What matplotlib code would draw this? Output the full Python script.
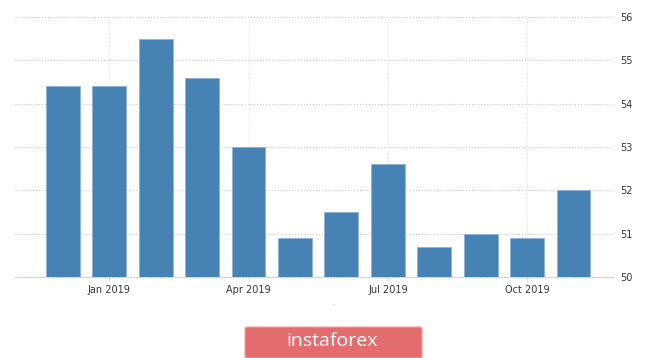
import matplotlib.pyplot as plt
from matplotlib.patches import FancyBboxPatch

months = ['Dec 2018', 'Jan 2019', 'Feb 2019', 'Mar 2019', 'Apr 2019', 'May 2019',
          'Jun 2019', 'Jul 2019', 'Aug 2019', 'Sep 2019', 'Oct 2019', 'Nov 2019']
values = [54.4, 54.4, 55.5, 54.6, 53.0, 50.9, 51.5, 52.6, 50.7, 51.0, 50.9, 52.0]
tick_idx = [1, 4, 7, 10]
y_ticks = [50, 51, 52, 53, 54, 55, 56]

fig = plt.figure(figsize=(6.65, 3.58), dpi=100)
ax = fig.add_axes([15 / 665, 1 - 277 / 358, (613 - 15) / 665, 260 / 358])

x = list(range(len(values)))
ax.bar(x, [v - 50 for v in values], bottom=50, width=0.73,
       color='#4682b4', edgecolor='#8fb3d6', linewidth=0.6, zorder=3)

ax.set_xlim(-1.03, 11.85)
ax.set_ylim(50, 56)
ax.set_xticks(tick_idx)
ax.set_xticklabels([months[i] for i in tick_idx])
ax.set_yticks(y_ticks)
ax.yaxis.tick_right()
ax.tick_params(axis='y', length=0, pad=5, labelsize=7, labelcolor='#333333')
ax.tick_params(axis='x', length=3, color='#d8d8d8', pad=3, labelsize=7, labelcolor='#333333')

ax.yaxis.grid(True, linestyle=':', color='#c8c8c8', linewidth=0.8, zorder=0)
ax.xaxis.grid(True, linestyle=':', color='#dddddd', linewidth=0.7, zorder=0)
for s in ['top', 'left', 'right']:
    ax.spines[s].set_visible(False)
ax.spines['bottom'].set_linestyle(':')
ax.spines['bottom'].set_color('#c8c8c8')
for gl in ax.get_ygridlines():
    gl.set_clip_on(False)

# small dot under the axis
fig.text(333 / 665, 1 - 305 / 358, '.', color='#999999', fontsize=5, ha='center')

# watermark
box = FancyBboxPatch((245 / 665, 1 - 358 / 358), 177 / 665, 31 / 358,
                     boxstyle='round,pad=0,rounding_size=0.004',
                     transform=fig.transFigure, facecolor='#e46c6e',
                     edgecolor='#f0a0a0', linewidth=0.8)
fig.patches.append(box)
fig.text(332 / 665, 1 - 341 / 358, 'instaforex', color='white', fontsize=14,
         ha='center', va='center', family='Open Sans')

fig.savefig('out.png', dpi=100)
